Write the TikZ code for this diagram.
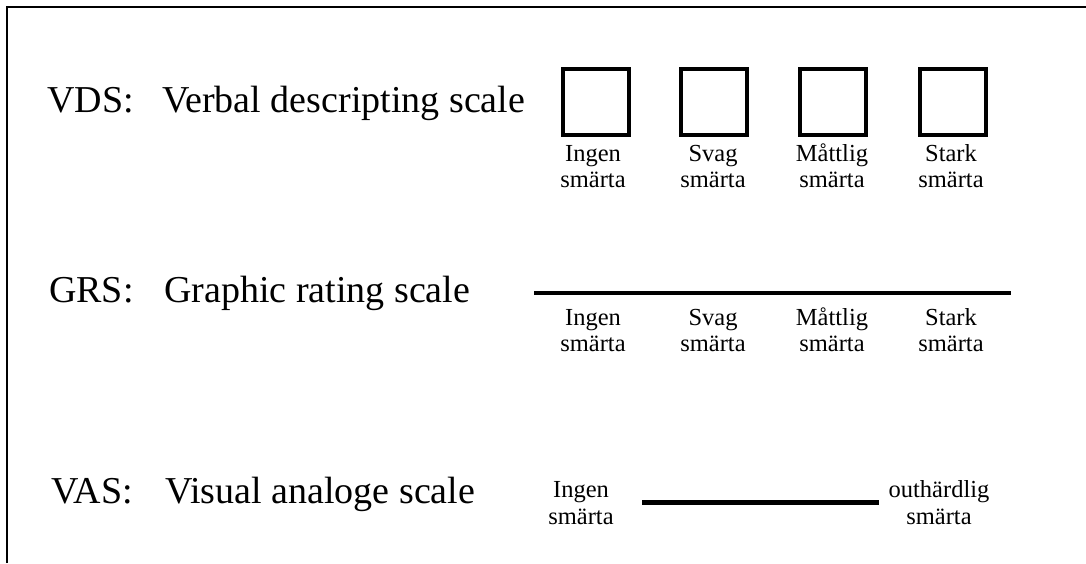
\documentclass[tikz,border=0pt]{standalone}
\usepackage{fontspec}
\setmainfont{Liberation Serif}
\begin{document}
\begin{tikzpicture}[x=1pt,y=-1pt,
  big/.style={font=\fontsize{38}{45}\selectfont, inner sep=0pt, anchor=base west},
  small/.style={font=\fontsize{24.5}{26.5}\selectfont, inner sep=0pt, anchor=base, align=center},
  checkbox/.style={draw, line width=4pt, minimum size=66pt, inner sep=0pt},
  bar/.style={line width=4.5pt},
  frame/.style={line width=2pt}]
\useasboundingbox (0,0) rectangle (1086,563);
% frame
\coordinate (tl) at (7,7);
\coordinate (tr) at (1086,7);
\coordinate (bl) at (7,563);
\draw[frame] (bl) -- (tl) -- (tr);
% VDS
\node[big] (vds) at (47,112) {VDS:};
\node[big] (vdsname) at (162,112) {Verbal descripting scale};
\node[checkbox] (b1) at (596,102) {};
\node[checkbox] (b2) at (713.5,102) {};
\node[checkbox] (b3) at (833,102) {};
\node[checkbox] (b4) at (953,102) {};
\node[small] (v1) at (593,187.5) {Ingen\\smärta};
\node[small] (v2) at (713,187.5) {Svag\\smärta};
\node[small] (v3) at (832,187.5) {Måttlig\\smärta};
\node[small] (v4) at (951,187.5) {Stark\\smärta};
% GRS
\node[big] (grs) at (49,302) {GRS:};
\node[big] (grsname) at (164,302) {Graphic rating scale};
\coordinate (g0) at (534,293);
\coordinate (g1) at (1011,293);
\draw[bar] (g0) -- (g1);
\node[small] (g1l) at (593,351.5) {Ingen\\smärta};
\node[small] (g2l) at (713,351.5) {Svag\\smärta};
\node[small] (g3l) at (832,351.5) {Måttlig\\smärta};
\node[small] (g4l) at (951,351.5) {Stark\\smärta};
% VAS
\node[big] (vas) at (51,503) {VAS:};
\node[big] (vasname) at (165,503) {Visual analoge scale};
\node[small] (a1) at (581,524) {Ingen\\smärta};
\node[small] (a2) at (939,524) {outhärdlig\\smärta};
\coordinate (a0) at (642,502.5);
\coordinate (aE) at (879,502.5);
\draw[bar, line width=5pt] (a0) -- (aE);
\end{tikzpicture}
\end{document}
